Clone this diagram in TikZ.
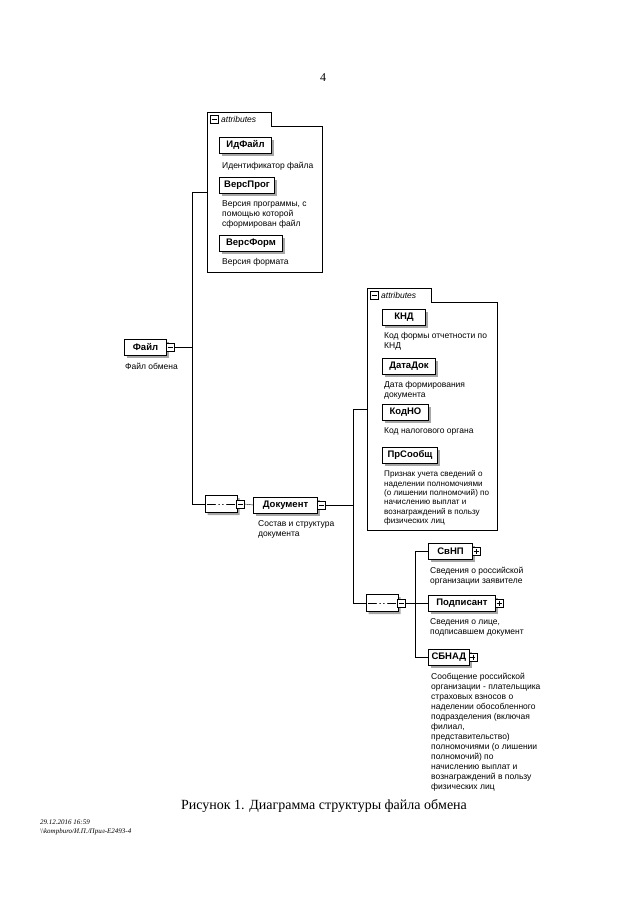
\documentclass[tikz,border=0pt]{standalone}
\usepackage{fontspec}
\setmainfont{Liberation Serif}
\setsansfont{Liberation Sans}
\usepackage{tikz}
\usetikzlibrary{shapes.misc, calc, positioning}

\tikzset{
  boxshadow/.style={preaction={fill=black!35, transform canvas={xshift=2.5pt, yshift=-2.5pt}}},
  elem/.style={draw, line width=1pt, fill=white, anchor=west, minimum height=16pt, inner xsep=3pt,
    font=\sffamily\bfseries\fontsize{9.5}{10}\selectfont, boxshadow},
  desc/.style={anchor=north west, inner sep=0pt, align=left, font=\sffamily\fontsize{8.5}{10}\selectfont},
  minusicon/.style={draw, fill=white, anchor=west, minimum size=8pt, inner sep=0pt,
    path picture={\draw ([xshift=1.5pt]path picture bounding box.west) -- ([xshift=-1.5pt]path picture bounding box.east);}},
  plusicon/.style={draw, fill=white, anchor=west, minimum size=8pt, inner sep=0pt,
    path picture={\draw ([xshift=1.5pt]path picture bounding box.west) -- ([xshift=-1.5pt]path picture bounding box.east);
      \draw ([yshift=-1.5pt]path picture bounding box.north) -- ([yshift=1.5pt]path picture bounding box.south);}},
  attrbox/.style={anchor=north west, inner sep=0pt},
  attrtab/.style={anchor=south west, minimum height=13pt, text width=58pt, inner xsep=3pt, inner ysep=0pt, align=left,
    font=\sffamily\itshape\fontsize{8.5}{9}\selectfont},
  seqsym/.style={chamfered rectangle, chamfered rectangle xsep=4pt, chamfered rectangle ysep=4pt, draw, fill=white,
    minimum width=32pt, minimum height=17pt, inner sep=0pt, boxshadow,
    path picture={\draw ([xshift=2pt]path picture bounding box.west) -- ([xshift=-2pt]path picture bounding box.east);
      \foreach \d in {-3.8,0,3.8} \fill ([xshift=\d pt]path picture bounding box.center) circle (1.7pt);}}
}

\begin{document}
\begin{tikzpicture}[x=1pt, y=-1pt]
\useasboundingbox (0,0) rectangle (640,905);

\node[font=\fontsize{12}{14}\selectfont] (pagenum) at (323,78) {4};

\node[attrbox, minimum width=115pt, minimum height=146pt] (attrA) at (207,126) {};
\node[attrtab] (attrAtab) at (attrA.north west) {\hspace*{11pt}attributes};
\draw (attrAtab.north west) -- (attrAtab.north east) -- (attrAtab.south east) -- (attrA.north east) -- (attrA.south east) -- (attrA.south west) -- cycle;
\node[minusicon] (attrAI) at ([xshift=3pt]attrAtab.west) {};

\node[elem, minimum width=52pt] (idfile) at (219,145) {ИдФайл};
\node[desc] (idfileD) at ([shift={(3,8)}]idfile.south west) {Идентификатор файла};
\node[elem, minimum width=55pt] (versprog) at (219,185) {ВерсПрог};
\node[desc] (versprogD) at ([shift={(3,7)}]versprog.south west) {Версия программы, с\\помощью которой\\сформирован файл};
\node[elem, minimum width=63pt] (versform) at (219,243) {ВерсФорм};
\node[desc] (versformD) at ([shift={(3,7)}]versform.south west) {Версия формата};

\node[elem, minimum width=42pt] (file) at (124,347) {Файл};
\node[minusicon] (fileI) at ([xshift=-1pt]file.east) {};
\node[desc] (fileD) at ([shift={(1,7)}]file.south west) {Файл обмена};

\node[seqsym] (seqA) at (221,504) {};
\node[minusicon] (seqAI) at ([xshift=-1pt]seqA.east) {};

\node[elem, minimum width=64pt] (doc) at (253,505) {Документ};
\node[minusicon] (docI) at ([xshift=-1pt]doc.east) {};
\node[desc] (docD) at ([shift={(5,7)}]doc.south west) {Состав и структура\\документа};

\node[attrbox, minimum width=130pt, minimum height=228pt] (attrB) at (367,302) {};
\node[attrtab] (attrBtab) at (attrB.north west) {\hspace*{11pt}attributes};
\draw (attrBtab.north west) -- (attrBtab.north east) -- (attrBtab.south east) -- (attrB.north east) -- (attrB.south east) -- (attrB.south west) -- cycle;
\node[minusicon] (attrBI) at ([xshift=3pt]attrBtab.west) {};

\node[elem, minimum width=43pt] (knd) at (382,317) {КНД};
\node[desc] (kndD) at ([shift={(2,7)}]knd.south west) {Код формы отчетности по\\КНД};
\node[elem, minimum width=53pt] (datadok) at (382,366) {ДатаДок};
\node[desc] (datadokD) at ([shift={(2,7)}]datadok.south west) {Дата формирования\\документа};
\node[elem, minimum width=46pt] (kodno) at (382,412) {КодНО};
\node[desc] (kodnoD) at ([shift={(2,7)}]kodno.south west) {Код налогового органа};
\node[elem, minimum width=55pt] (prsoob) at (382,455) {ПрСообщ};
\node[desc, font=\sffamily\fontsize{8.1}{9.4}\selectfont] (prsoobD) at ([shift={(2,7)}]prsoob.south west) {Признак учета сведений о\\наделении полномочиями\\(о лишении полномочий) по\\начислению выплат и\\вознаграждений в пользу\\физических лиц};

\node[seqsym] (seqB) at (382,603) {};
\node[minusicon] (seqBI) at ([xshift=-1pt]seqB.east) {};

\node[elem, minimum width=44pt] (svnp) at (428,551) {СвНП};
\node[plusicon] (svnpI) at ([xshift=-1pt]svnp.east) {};
\node[desc] (svnpD) at ([shift={(2,7)}]svnp.south west) {Сведения о российской\\организации заявителе};
\node[elem, minimum width=67pt] (podp) at (428,603) {Подписант};
\node[plusicon] (podpI) at ([xshift=-1pt]podp.east) {};
\node[desc] (podpD) at ([shift={(2,7)}]podp.south west) {Сведения о лице,\\подписавшем документ};
\node[elem, minimum width=40pt] (sbnad) at (428,657) {СБНАД};
\node[plusicon] (sbnadI) at ([xshift=-1pt]sbnad.east) {};
\node[desc] (sbnadD) at ([shift={(3,7)}]sbnad.south west) {Сообщение российской\\организации - плательщика\\страховых взносов о\\наделении обособленного\\подразделения (включая\\филиал,\\представительство)\\полномочиями (о лишении\\полномочий) по\\начислению выплат и\\вознаграждений в пользу\\физических лиц};

\coordinate (spineA) at (192,0);
\coordinate (spineB) at (353,0);
\coordinate (spineC) at (415,0);
\draw (fileI.east) -- (fileI.east -| spineA);
\draw ($(attrAtab.north west)!0.5!(attrA.south west)$) -| (spineA |- seqA.west) -- (seqA.west);
\draw (seqAI.east) -- (doc.west);
\draw (docI.east) -- (docI.east -| spineB);
\draw ($(attrBtab.north west)!0.5!(attrB.south west)$) -| (spineB |- seqB.west) -- (seqB.west);
\draw (seqBI.east) -- (seqBI.east -| spineC);
\draw (svnp.west) -| (spineC |- sbnad.west) -- (sbnad.west);
\draw (podp.west) -- (podp.west -| spineC);

\node[font=\fontsize{14}{16}\selectfont] (caption) at (324,806) {Рисунок 1. Диаграмма структуры файла обмена};
\node[anchor=north west, align=left, inner sep=0pt, font=\itshape\fontsize{7}{9}\selectfont] (stamp) at (40,820) {29.12.2016 16:59\\\textbackslash\textbackslash kompburo/И.П./Прил-Е2493-4};
\end{tikzpicture}
\end{document}
